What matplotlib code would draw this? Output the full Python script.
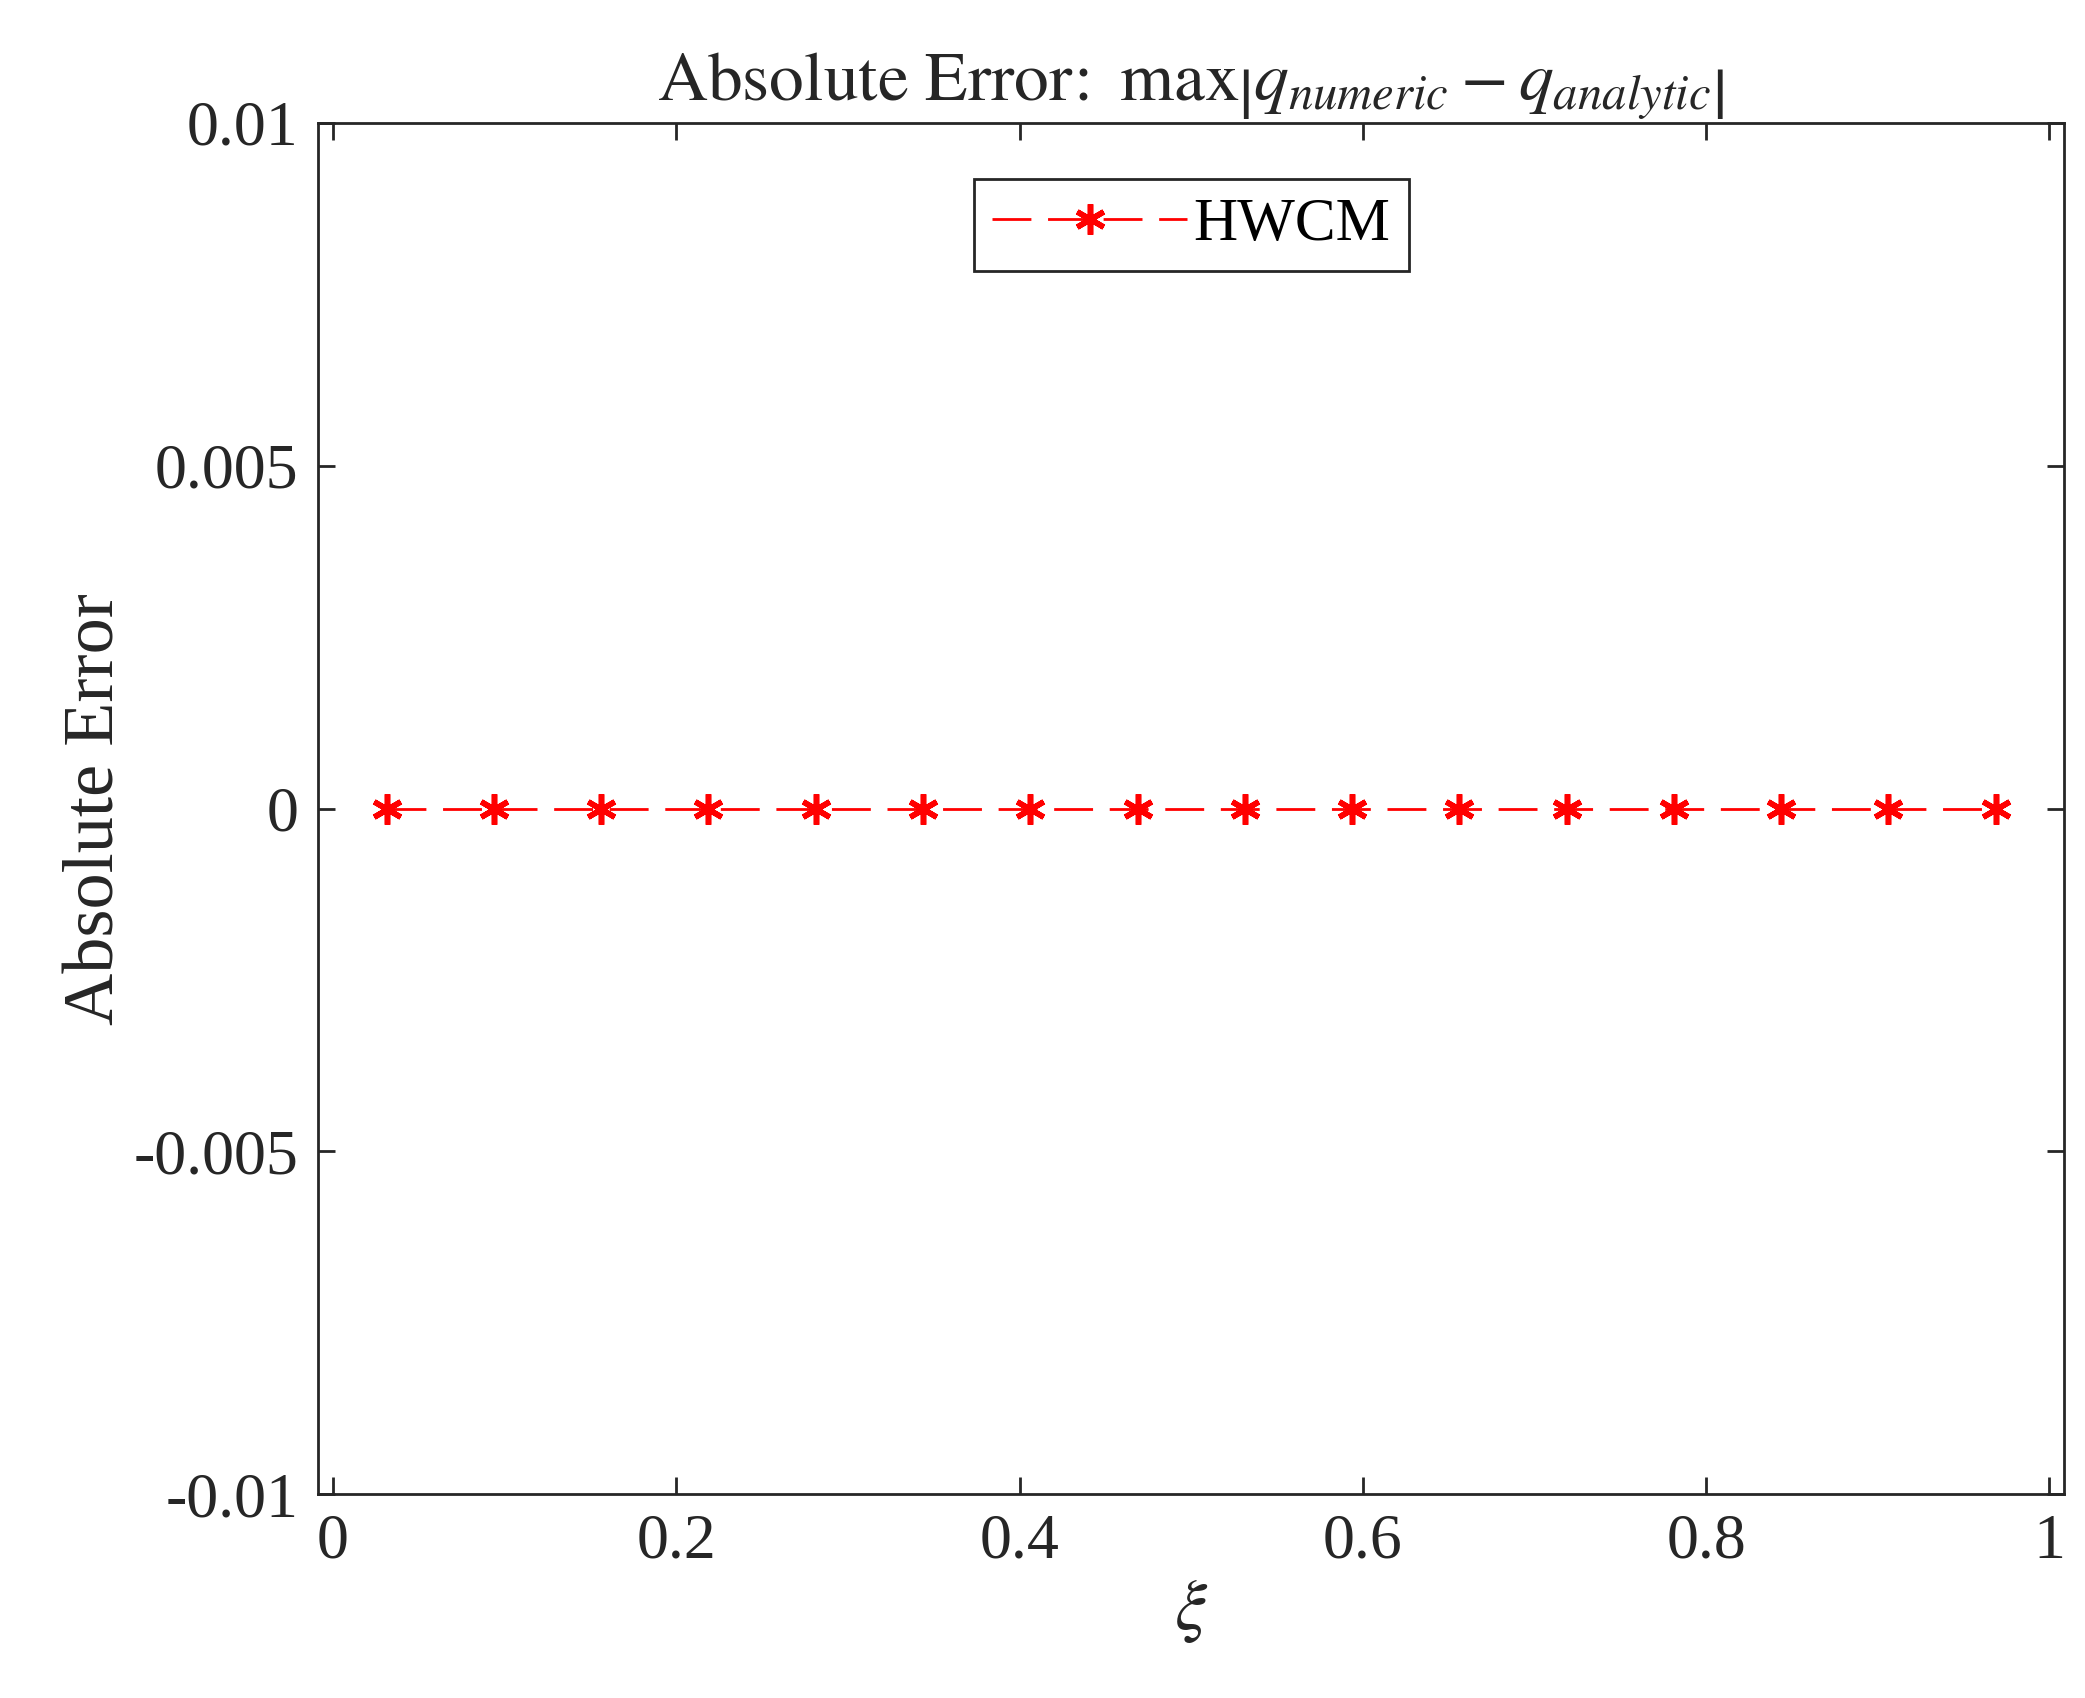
import matplotlib
matplotlib.use("Agg")
import matplotlib.pyplot as plt

plt.rcParams['font.family'] = ['Liberation Serif', 'DejaVu Serif']
plt.rcParams['mathtext.fontset'] = 'stix'

# Data
xi = [0.03125, 0.09375, 0.15625, 0.21875, 0.28125, 0.34375, 0.40625, 0.46875,
      0.53125, 0.59375, 0.65625, 0.71875, 0.78125, 0.84375, 0.90625, 0.96875]
abs_err = [0.0] * 16
xticks = [0, 0.2, 0.4, 0.6, 0.8, 1]
xticklabels = ['0', '0.2', '0.4', '0.6', '0.8', '1']
yticks = [-0.01, -0.005, 0, 0.005, 0.01]
yticklabels = ['-0.01', '-0.005', '0', '0.005', '0.01']

fig = plt.figure(figsize=(20.85, 16.98), dpi=100)
ax = fig.add_axes([0.1526, 0.120, 0.8374, 0.8076])

ax.plot(xi, abs_err, color='red', linestyle=(0, (14, 6)), linewidth=2,
        marker=(6, 2, 0), markersize=22, markeredgewidth=4, label='HWCM')

ax.set_xlim(-0.0086, 1.0086)
ax.set_ylim(-0.01, 0.01)
ax.set_xticks(xticks)
ax.set_xticklabels(xticklabels)
ax.set_yticks(yticks)
ax.set_yticklabels(yticklabels)
ax.tick_params(direction='in', length=12, width=2, labelsize=46, top=True, right=True,
               colors='#262626', pad=14)
for s in ax.spines.values():
    s.set_linewidth(2)
    s.set_color('#262626')

ax.set_xlabel(r'$\xi$', fontsize=52, color='#262626')
ax.set_ylabel('Absolute Error', fontsize=52, color='#262626')
ax.set_title(r'$\mathrm{Absolute\ Error\!:\ max}\left|q_{numeric} - q_{analytic}\right|$',
             fontsize=50, color='#262626', pad=16)

leg = ax.legend(loc='upper center', bbox_to_anchor=(0.5, 0.968), fontsize=44,
                fancybox=False, framealpha=1, edgecolor='#262626',
                handlelength=3.2, handletextpad=0.1, borderpad=0.3, borderaxespad=0.2)
leg.get_frame().set_linewidth(2)

fig.savefig('out.png', dpi=100)
